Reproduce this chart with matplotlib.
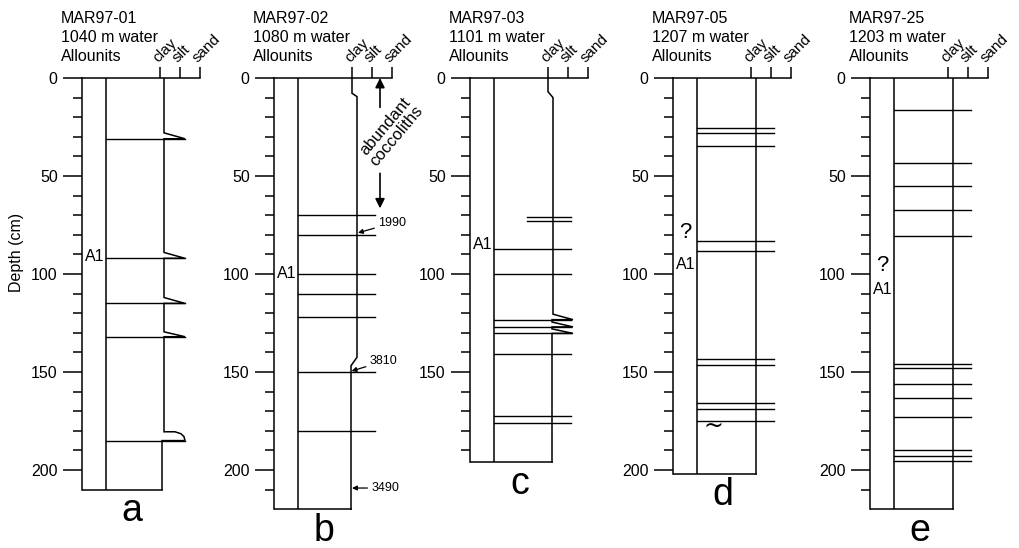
import matplotlib
matplotlib.use('Agg')
import matplotlib.pyplot as plt

plt.rcParams['font.family'] = ['Liberation Sans', 'DejaVu Sans']

# ---------------- data ----------------
core_names = ['MAR97-01', 'MAR97-02', 'MAR97-03', 'MAR97-05', 'MAR97-25']
water_depths = [1040, 1080, 1101, 1207, 1203]
core_lengths = [210, 220, 196, 202, 220]
panel_letters = ['a', 'b', 'c', 'd', 'e']
grain_labels = ['clay', 'silt', 'sand']

# bed (layer) boundaries, cm
beds_a = [31, 92, 115, 132, 185]
beds_b = [70, 80, 100, 110, 122, 150, 180]
beds_c = [87, 100, 123.3, 127, 130.3, 141, 172.7, 175.8]
beds_c_short = [71, 73]
beds_d = [25.7, 28, 34.6, 83.4, 88.5, 143.6, 146.5, 165.6, 169, 174.9]
beds_e = [16.3, 43.2, 55.1, 67.3, 80.6, 146, 148.1, 156.1, 163.1, 173.1,
          189.8, 192.7, 195.4]

# grain-size curves (0 = clay, 1 = silt, 2 = sand)
grain_a_depth = [0, 28, 31, 31, 89, 92, 92, 112, 115, 115, 129.5, 132, 132,
                 180.5, 180.5, 181.5, 183, 185, 185, 210]
grain_a_size = [0.2, 0.2, 1.25, 0.2, 0.2, 1.25, 0.2, 0.2, 1.25, 0.2, 0.2, 1.25,
                0.2, 0.2, 0.75, 1.05, 1.2, 1.25, 0.1, 0.1]
grain_b_depth = [0, 7.8, 9.5, 142.5, 146.8, 220]
grain_b_size = [0, 0, 0.25, 0.25, -0.05, -0.05]
grain_c_depth = [0, 7, 10, 120.5, 123.3, 123.3, 124.5, 127, 127, 128, 130.3,
                 130.3, 196]
grain_c_size = [0, 0, 0.25, 0.25, 1.25, 0.2, 0.2, 1.25, 0.2, 0.2, 1.25, 0.2, 0.2]
grain_d_depth = [0, 202]
grain_d_size = [0.25, 0.25]
grain_e_depth = [0, 220]
grain_e_size = [0.25, 0.25]

# allounit labels
a1_depths = [91.3, 99.5, 85, 95, 108]
question_depths = [None, None, None, 79, 95.7]

# radiocarbon ages on core b
age_labels = ['1990', '3810', '3490']
age_depths = [79, 149.5, 209.2]
# abundant coccoliths interval on core b
cocco_top, cocco_bottom = 0, 66.5
# burrow / squiggle symbol on core d
squiggle_depth_d = 177.5

beds = [beds_a, beds_b, beds_c, beds_d, beds_e]
grain_depths = [grain_a_depth, grain_b_depth, grain_c_depth, grain_d_depth,
                grain_e_depth]
grain_sizes = [grain_a_size, grain_b_size, grain_c_size, grain_d_size,
               grain_e_size]

# ---------------- layout ----------------
W, H = 1019, 548
TOP_PX = 78
PX_PER_CM = 1.96
UNIT_PX = 20
YMAX = 225
clay_px = [160, 352, 548, 751, 948]
XMIN, XMAX = -3.9, 2.5
INNER = -2.7
bed_right = [1.25, 1.15, 1.15, 1.15, 1.15]
bottom_left = [-4.35, -4.35, -3.9, -3.95, -4.35]
LW = 1.1

fig = plt.figure(figsize=(W / 100, H / 100), dpi=100)
fig.patch.set_facecolor('white')

for i in range(5):
    L = core_lengths[i]
    left = (clay_px[i] + XMIN * UNIT_PX) / W
    width = (XMAX - XMIN) * UNIT_PX / W
    height = YMAX * PX_PER_CM / H
    bottom = 1 - (TOP_PX + YMAX * PX_PER_CM) / H
    ax = fig.add_axes([left, bottom, width, height])
    ax.set_xlim(XMIN, XMAX)
    ax.set_ylim(YMAX, 0)
    ax.patch.set_alpha(0)

    for s in ['right', 'bottom']:
        ax.spines[s].set_visible(False)
    ax.spines['left'].set_bounds(0, L)
    ax.spines['top'].set_bounds(XMIN, 2)
    ax.spines['left'].set_linewidth(LW)
    ax.spines['top'].set_linewidth(LW)

    # depth axis
    majors = list(range(0, L + 1, 50))
    minors = [d for d in range(10, L, 10) if d % 50]
    ax.set_yticks(majors)
    ax.set_yticks(minors, minor=True)
    ax.set_yticklabels([str(m) for m in majors])
    ax.tick_params(axis='y', which='major', direction='out', length=14,
                   width=LW, pad=3.5, labelsize=11.5)
    ax.tick_params(axis='y', which='minor', direction='out', length=6.3,
                   width=LW)

    # grain-size scale on top
    ax.xaxis.set_ticks_position('top')
    ax.set_xticks([0, 1, 2])
    ax.set_xticklabels(grain_labels)
    ax.tick_params(axis='x', which='major', direction='out', length=8,
                   width=LW, pad=1.5, labelsize=11)
    for lab in ax.get_xticklabels():
        lab.set_rotation(45)
        lab.set_rotation_mode('anchor')
        lab.set_ha('left')
        lab.set_va('bottom')

    # inner column line
    ax.plot([INNER, INNER], [0, L], color='black', lw=LW, solid_capstyle='butt')
    # bed boundaries
    for b in beds[i]:
        ax.plot([INNER, bed_right[i]], [b, b], color='black', lw=1.0)
    if i == 2:
        for b in beds_c_short:
            ax.plot([-1.05, 1.15], [b, b], color='black', lw=1.0)
    # grain-size curve
    ax.plot(grain_sizes[i], grain_depths[i], color='black', lw=LW,
            solid_joinstyle='miter')
    # core bottom
    ax.plot([bottom_left[i], grain_sizes[i][-1]], [L, L], color='black', lw=LW)

    # header
    ax.text(XMIN - 1.05, -27.9, core_names[i], fontsize=11.5, ha='left',
            va='baseline')
    ax.text(XMIN - 1.05, -18.4, f'{water_depths[i]} m water', fontsize=11.5,
            ha='left', va='baseline')
    ax.text(XMIN - 1.05, -8.7, 'Allounits', fontsize=11.5, ha='left',
            va='baseline')

    # allounit labels
    ax.text(-3.28, a1_depths[i], 'A1', fontsize=11.5, ha='center', va='center')
    if question_depths[i] is not None:
        ax.text(-3.28, question_depths[i], '?', fontsize=16, ha='center',
                va='center')

    # panel letter
    ax.text(-1.4, L + 16, panel_letters[i], fontsize=27, ha='center',
            va='baseline')

    if i == 1:
        # ages
        ax.annotate(age_labels[0], xy=(0.3, age_depths[0]),
                    xytext=(1.32, age_depths[0] - 5), fontsize=9,
                    ha='left', va='center',
                    arrowprops=dict(arrowstyle='-|>', color='black', lw=0.9,
                                    mutation_scale=7, shrinkA=1, shrinkB=0))
        ax.annotate(age_labels[1], xy=(-0.02, age_depths[1]),
                    xytext=(0.9, age_depths[1] - 5), fontsize=9,
                    ha='left', va='center',
                    arrowprops=dict(arrowstyle='-|>', color='black', lw=0.9,
                                    mutation_scale=7, shrinkA=1, shrinkB=0))
        ax.annotate(age_labels[2], xy=(0.0, age_depths[2]),
                    xytext=(0.98, age_depths[2]), fontsize=9,
                    ha='left', va='center',
                    arrowprops=dict(arrowstyle='-|>', color='black', lw=0.9,
                                    mutation_scale=7, shrinkA=1, shrinkB=0))
        # abundant coccoliths
        ax.annotate('', xy=(1.4, cocco_top), xytext=(1.4, 15),
                    arrowprops=dict(arrowstyle='-|>', color='black', lw=1.2,
                                    mutation_scale=14, shrinkA=0, shrinkB=0))
        ax.annotate('', xy=(1.4, cocco_bottom), xytext=(1.4, 48.6),
                    arrowprops=dict(arrowstyle='-|>', color='black', lw=1.2,
                                    mutation_scale=14, shrinkA=0, shrinkB=0))
        ax.text(1.95, 27, 'abundant\ncoccoliths', fontsize=12, rotation=50,
                ha='center', va='center', multialignment='center',
                linespacing=1.0, rotation_mode='anchor')
    if i == 3:
        ax.text(-1.9, squiggle_depth_d, '~', fontsize=17, ha='center',
                va='center', family='DejaVu Sans')

fig.text(17 / W, 1 - 252 / H, 'Depth (cm)', rotation=90, ha='center',
         va='center', fontsize=11.5)

fig.savefig('out.png', dpi=100, facecolor='white')
